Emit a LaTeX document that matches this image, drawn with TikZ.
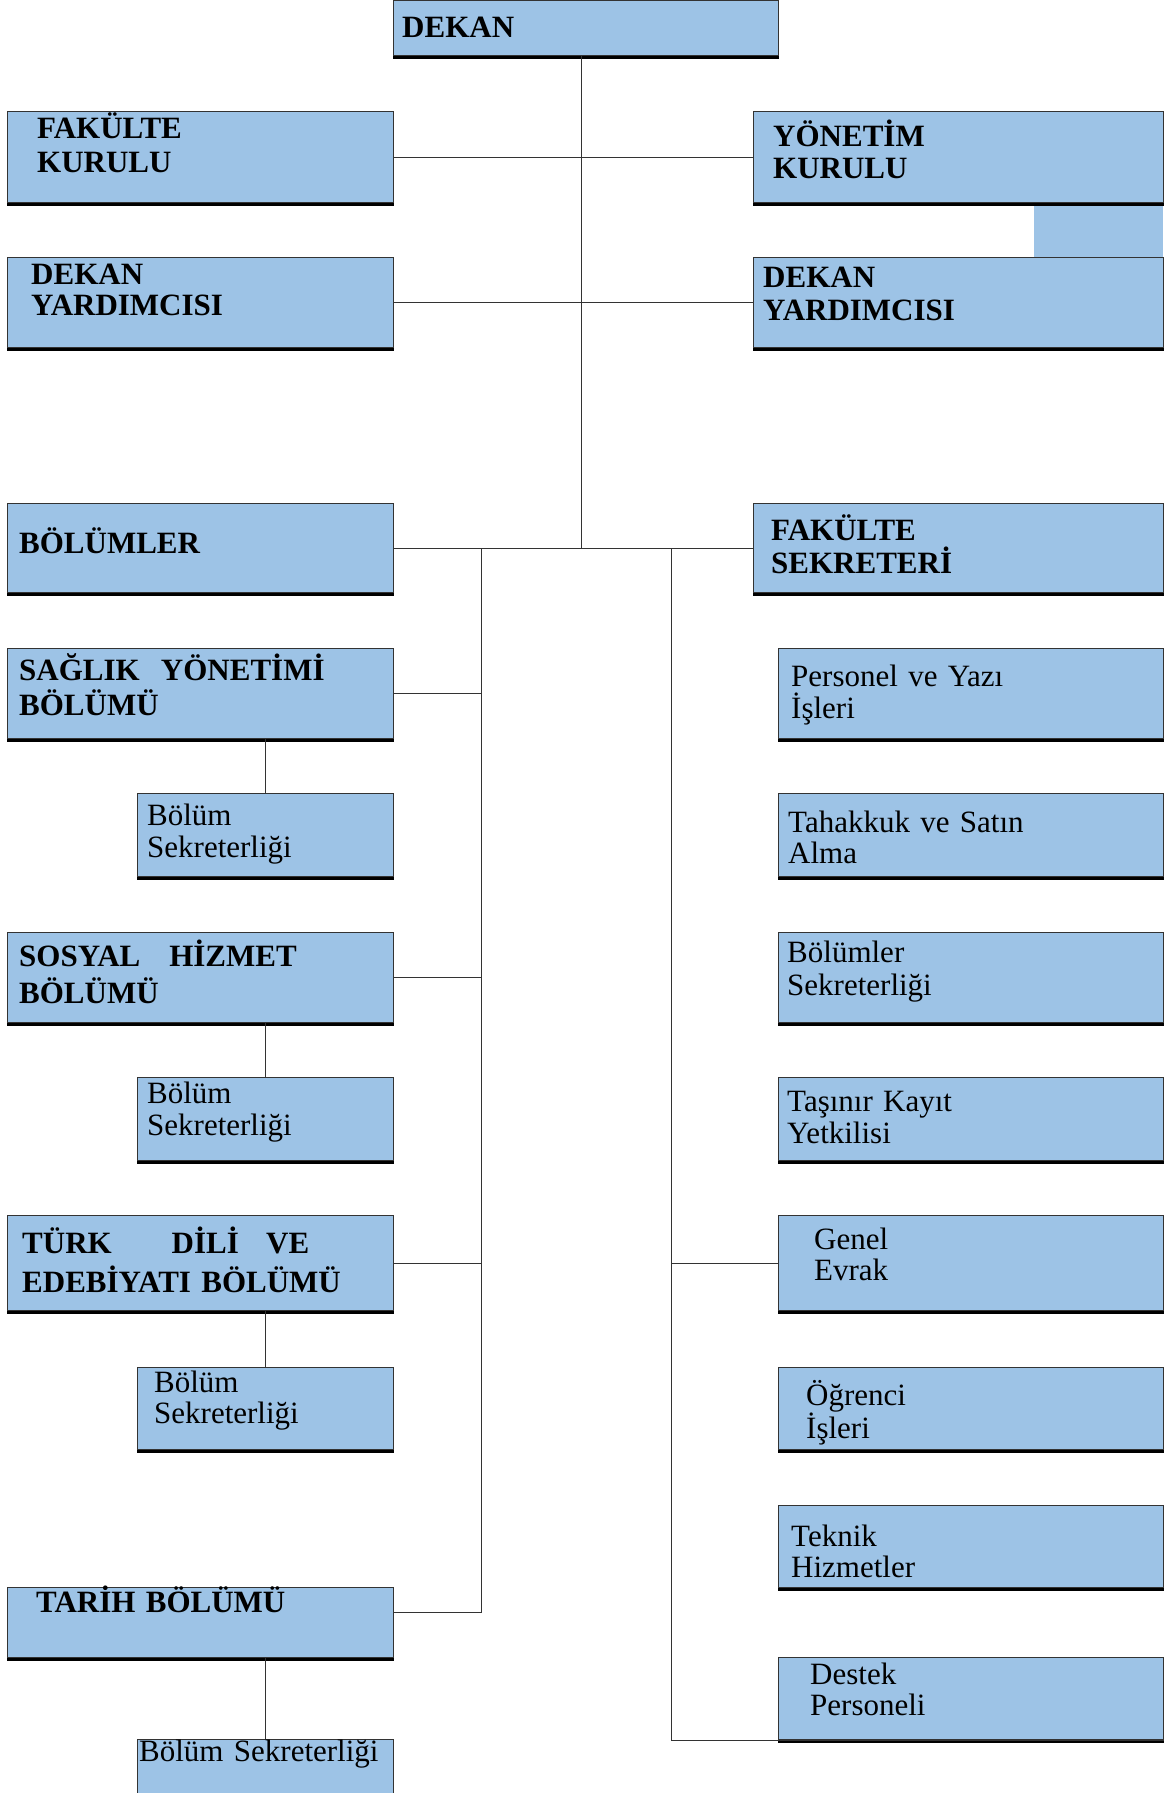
\documentclass[tikz,border=0pt]{standalone}
\usepackage{fontspec}
\setmainfont{Liberation Serif}
\usepackage{tikz}
\usetikzlibrary{calc, positioning}
\definecolor{boxblue}{HTML}{9DC3E6}
\tikzset{
  box/.style={draw=black!80, line width=1.2pt, fill=boxblue, anchor=north west, inner sep=0pt,
    append after command={\pgfextra{\draw[line width=3.5pt] ([yshift=-1pt]\tikzlastnode.south west) -- ([yshift=-1pt]\tikzlastnode.south east);}}},
  link/.style={draw=black!80, line width=1pt},
  hd/.style={font=\bfseries\fontsize{31}{33}\selectfont, anchor=base west, inner sep=0pt, text width=370pt, align=left},
  tx/.style={font=\fontsize{31}{32}\selectfont, anchor=base west, inner sep=0pt, text width=370pt, align=left},
}

\begin{document}
\begin{tikzpicture}[x=1pt, y=-1pt]
  \useasboundingbox (0,0) rectangle (1166,1793);
  \clip (0,0) rectangle (1166,1793);

  % blue strip between the two right boxes
  \fill[boxblue] (1034,200) rectangle (1163,258);

  % top levels
  \node[box, minimum width=385pt, minimum height=55pt] (dekan) at (393,0) {};
  \node[box, minimum width=386pt, minimum height=91pt] (fKurul) at (7,111) {};
  \node[box, minimum width=410pt, minimum height=91pt] (yKurul) at (753,111) {};
  \node[box, minimum width=386pt, minimum height=90pt] (dyL) at (7,257) {};
  \node[box, minimum width=410pt, minimum height=90pt] (dyR) at (753,257) {};
  \node[box, minimum width=386pt, minimum height=89pt] (bolumler) at (7,503) {};
  \node[box, minimum width=410pt, minimum height=89pt] (fSek) at (753,503) {};

  % departments
  \node[box, minimum width=386pt, minimum height=90pt] (saglik) at (7,648) {};
  \node[box, minimum width=256pt, minimum height=83pt] (bSek1) at (137,793) {};
  \node[box, minimum width=386pt, minimum height=90pt] (sosyal) at (7,932) {};
  \node[box, minimum width=256pt, minimum height=83pt] (bSek2) at (137,1077) {};
  \node[box, minimum width=386pt, minimum height=95pt] (turk) at (7,1215) {};
  \node[box, minimum width=256pt, minimum height=82pt] (bSek3) at (137,1367) {};
  \node[box, minimum width=386pt, minimum height=70pt] (tarih) at (7,1587) {};
  \node[box, minimum width=256pt, minimum height=70pt] (bSek4) at (137,1739) {};

  % secretariat units
  \node[box, minimum width=385pt, minimum height=90pt] (personel) at (778,648) {};
  \node[box, minimum width=385pt, minimum height=83pt] (tahakkuk) at (778,793) {};
  \node[box, minimum width=385pt, minimum height=90pt] (bolSek) at (778,932) {};
  \node[box, minimum width=385pt, minimum height=83pt] (tasinir) at (778,1077) {};
  \node[box, minimum width=385pt, minimum height=95pt] (genel) at (778,1215) {};
  \node[box, minimum width=385pt, minimum height=82pt] (ogrenci) at (778,1367) {};
  \node[box, minimum width=385pt, minimum height=82pt] (teknik) at (778,1505) {};
  \node[box, minimum width=385pt, minimum height=82pt] (destek) at (778,1657) {};

  % texts
  \node[hd] (tDekan) at (402,38) {DEKAN};
  \node[hd, font=\bfseries\fontsize{31}{34}\selectfont] (tFKurul) at (37,138) {FAKÜLTE\\KURULU};
  \node[hd, font=\bfseries\fontsize{31}{32}\selectfont] (tYKurul) at (773,146) {YÖNETİM\\KURULU};
  \node[hd, font=\bfseries\fontsize{31}{31}\selectfont] (tDyL) at (31,284) {DEKAN\\YARDIMCISI};
  \node[hd] (tDyR) at (763,287) {DEKAN\\YARDIMCISI};
  \node[hd] (tBolumler) at (19,553) {BÖLÜMLER};
  \node[hd] (tFSek) at (771,540) {FAKÜLTE\\SEKRETERİ};
  \node[hd, font=\bfseries\fontsize{31}{35}\selectfont] (tSaglik) at (19,680) {SAĞLIK\hspace{0.35em} YÖNETİMİ\\BÖLÜMÜ};
  \node[hd, font=\bfseries\fontsize{31}{37}\selectfont] (tSosyal) at (19,966) {SOSYAL\hspace{0.6em} HİZMET\\BÖLÜMÜ};
  \node[hd, font=\bfseries\fontsize{31}{39}\selectfont] (tTurk) at (22,1253) {TÜRK\hspace{1.6em} DİLİ\hspace{0.55em} VE\\EDEBİYATI BÖLÜMÜ};
  \node[hd] (tTarih) at (36,1612) {TARİH BÖLÜMÜ};

  \node[tx] (tBSek1) at (147,825) {Bölüm\\Sekreterliği};
  \node[tx] (tBSek2) at (147,1103) {Bölüm\\Sekreterliği};
  \node[tx, font=\fontsize{31}{31}\selectfont] (tBSek3) at (154,1392) {Bölüm\\Sekreterliği};
  \node[tx] (tBSek4) at (139,1761) {Bölüm Sekreterliği};
  \node[tx] (tPersonel) at (791,686) {Personel ve Yazı\\İşleri};
  \node[tx, font=\fontsize{31}{31}\selectfont] (tTahakkuk) at (788,832) {Tahakkuk ve Satın\\Alma};
  \node[tx, font=\fontsize{31}{33}\selectfont] (tBolSek) at (787,962) {Bölümler\\Sekreterliği};
  \node[tx] (tTasinir) at (787,1111) {Taşınır Kayıt\\Yetkilisi};
  \node[tx, font=\fontsize{31}{31}\selectfont] (tGenel) at (814,1249) {Genel\\Evrak};
  \node[tx] (tOgrenci) at (806,1405) {Öğrenci\\İşleri};
  \node[tx, font=\fontsize{31}{31}\selectfont] (tTeknik) at (791,1546) {Teknik\\Hizmetler};
  \node[tx, font=\fontsize{31}{31}\selectfont] (tDestek) at (810,1684) {Destek\\Personeli};

  % connectors
  \coordinate (trunk) at (581,548);
  \coordinate (busL) at (481,548);
  \coordinate (busR) at (671,548);
  \coordinate (tarihIn) at (393,1612);
  \draw[link] (dekan.south -| trunk) -- (trunk);
  \draw[link] (fKurul.east) -- (yKurul.west);
  \draw[link] (dyL.east) -- (dyR.west);
  \draw[link] (bolumler.east) -- (fSek.west);
  \draw[link] (busL) |- (tarihIn);
  \draw[link] (saglik.east) -- (saglik.east -| busL);
  \draw[link] (sosyal.east) -- (sosyal.east -| busL);
  \draw[link] (turk.east) -- (turk.east -| busL);
  \draw[link] (busR) |- (destek.south east);
  \draw[link] (genel.west) -- (genel.west -| busR);
  \draw[link] (saglik.south -| bSek1.north) -- (bSek1.north);
  \draw[link] (sosyal.south -| bSek2.north) -- (bSek2.north);
  \draw[link] (turk.south -| bSek3.north) -- (bSek3.north);
  \draw[link] (tarih.south -| bSek4.north) -- (bSek4.north);
\end{tikzpicture}
\end{document}
